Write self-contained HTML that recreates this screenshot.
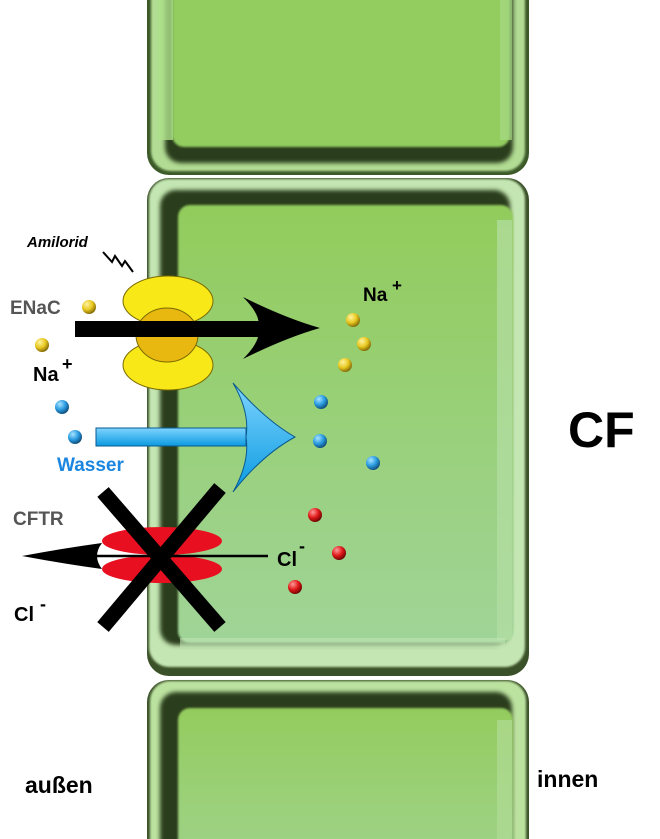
<!DOCTYPE html>
<html><head><meta charset="utf-8"><style>
html,body{margin:0;padding:0;background:#fff;}
svg{display:block;font-family:"Liberation Sans",Arial,sans-serif;font-weight:bold;}
</style></head><body>
<svg width="660" height="839" viewBox="0 0 660 839" xmlns="http://www.w3.org/2000/svg">
<defs>
<filter id="b2" x="-10%" y="-10%" width="120%" height="120%"><feGaussianBlur stdDeviation="2"/></filter>
<filter id="b1"><feGaussianBlur stdDeviation="1"/></filter>
<linearGradient id="gMid" x1="0" y1="0" x2="0" y2="1"><stop offset="0" stop-color="#92cc5c"/><stop offset="1" stop-color="#a0d498"/></linearGradient>
<linearGradient id="gBot" x1="0" y1="0" x2="0" y2="1"><stop offset="0" stop-color="#94cc5e"/><stop offset="1" stop-color="#a0d38c"/></linearGradient>
<radialGradient id="ry" cx="0.35" cy="0.3" r="0.8"><stop offset="0" stop-color="#fff3a0"/><stop offset="0.5" stop-color="#e8c820"/><stop offset="1" stop-color="#6a5200"/></radialGradient>
<radialGradient id="rb" cx="0.35" cy="0.3" r="0.8"><stop offset="0" stop-color="#a8e4ff"/><stop offset="0.5" stop-color="#2a9be0"/><stop offset="1" stop-color="#0a3a60"/></radialGradient>
<radialGradient id="rr" cx="0.35" cy="0.3" r="0.8"><stop offset="0" stop-color="#ff9a9a"/><stop offset="0.5" stop-color="#e01818"/><stop offset="1" stop-color="#500000"/></radialGradient>
<linearGradient id="ga" x1="0" y1="0" x2="0" y2="1"><stop offset="0" stop-color="#7fd4ff"/><stop offset="1" stop-color="#0a9ae0"/></linearGradient>
</defs>

<!-- top cell -->
<rect x="147" y="-30" width="382" height="205" rx="22" fill="#3c5a28"/>
<rect x="151" y="-30" width="374" height="201" rx="20" fill="#b2dc94" filter="url(#b1)"/>
<rect x="165" y="-30" width="348" height="193" rx="16" fill="#2c3c1c" filter="url(#b2)"/>
<rect x="172" y="-30" width="338" height="177" rx="12" fill="#93cc5e" filter="url(#b1)"/>
<rect x="157" y="-10" width="16" height="150" fill="#ade08a" opacity="0.8"/>
<rect x="500" y="-10" width="12" height="150" fill="#a6d886" opacity="0.7"/>

<!-- middle cell -->
<rect x="147" y="178" width="382" height="498" rx="22" fill="#3a5028"/>
<rect x="149" y="179" width="376" height="488" rx="20" fill="#c4e6b2" filter="url(#b1)"/>
<rect x="160" y="190" width="350" height="455" rx="16" fill="#2c3c1c" filter="url(#b2)"/>
<rect x="178" y="205" width="335" height="438" rx="12" fill="url(#gMid)" filter="url(#b1)"/>
<rect x="497" y="220" width="15" height="420" fill="#b4dea4" opacity="0.7"/>
<rect x="180" y="638" width="325" height="10" fill="#c0e4b4" opacity="0.6"/>

<!-- bottom cell -->
<rect x="147" y="680" width="382" height="190" rx="22" fill="#3a5028"/>
<rect x="150" y="681" width="376" height="190" rx="20" fill="#bce2a0" filter="url(#b1)"/>
<rect x="160" y="692" width="352" height="180" rx="16" fill="#2c3c1c" filter="url(#b2)"/>
<rect x="178" y="708" width="335" height="160" rx="12" fill="url(#gBot)" filter="url(#b1)"/>
<rect x="497" y="720" width="15" height="130" fill="#b0dc96" opacity="0.7"/>

<!-- Amilorid -->
<text x="27" y="247" font-size="15" font-style="italic">Amilorid</text>
<polyline points="103,252 112,262 115,256 122,266 125,261 133,272" fill="none" stroke="#000" stroke-width="2"/>

<!-- ENaC -->
<ellipse cx="168" cy="301" rx="45" ry="25" fill="#f8e818" stroke="#7a6a00" stroke-width="1"/>
<ellipse cx="168" cy="365" rx="45" ry="25" fill="#f8e818" stroke="#7a6a00" stroke-width="1"/>
<ellipse cx="167" cy="335" rx="31" ry="27" fill="#e8b810" stroke="#7a6a00" stroke-width="1"/>
<text x="10" y="314" font-size="19" fill="#555">ENaC</text>
<rect x="75" y="321" width="190" height="16" fill="#000"/>
<path d="M243,297 Q285,318 320,328 Q285,338 243,359 Q262,340 258,328 Q262,316 243,297 Z" fill="#000"/>

<!-- Na balls -->
<circle cx="89" cy="307" r="7" fill="url(#ry)"/>
<circle cx="42" cy="345" r="7" fill="url(#ry)"/>
<circle cx="353" cy="320" r="7" fill="url(#ry)"/>
<circle cx="364" cy="344" r="7" fill="url(#ry)"/>
<circle cx="345" cy="365" r="7" fill="url(#ry)"/>
<text x="33" y="381" font-size="20">Na</text><text x="62" y="370" font-size="18">+</text>
<text x="363" y="301" font-size="19">Na</text><text x="392" y="291" font-size="17">+</text>

<!-- water -->
<circle cx="62" cy="407" r="7" fill="url(#rb)"/>
<circle cx="75" cy="437" r="7" fill="url(#rb)"/>
<circle cx="321" cy="402" r="7" fill="url(#rb)"/>
<circle cx="320" cy="441" r="7" fill="url(#rb)"/>
<circle cx="373" cy="463" r="7" fill="url(#rb)"/>
<rect x="96" y="428" width="150" height="18" fill="url(#ga)" stroke="#0a5a90" stroke-width="1"/>
<path d="M233,383 Q265,420 295,437 Q262,455 233,492 Q250,462 246,437 Q250,412 233,383 Z" fill="url(#ga)" stroke="#0a5a90" stroke-width="1"/>
<text x="57" y="471" font-size="19" fill="#1a86e0">Wasser</text>

<!-- CFTR -->
<text x="13" y="525" font-size="19" fill="#555">CFTR</text>
<ellipse cx="162" cy="541" rx="60" ry="14" fill="#e81020"/>
<ellipse cx="162" cy="569" rx="60" ry="14" fill="#e81020"/>
<line x1="268" y1="556" x2="90" y2="556" stroke="#000" stroke-width="2.5"/>
<path d="M22,556 Q65,548 102,543 Q92,556 102,569 Q65,564 22,556 Z" fill="#000"/>
<line x1="103" y1="492" x2="220" y2="627" stroke="#000" stroke-width="15"/>
<line x1="220" y1="488" x2="103" y2="627" stroke="#000" stroke-width="15"/>
<text x="277" y="566" font-size="20">Cl</text><text x="299" y="552" font-size="18">-</text>
<text x="14" y="621" font-size="20">Cl</text><text x="40" y="610" font-size="18">-</text>
<circle cx="315" cy="515" r="7" fill="url(#rr)"/>
<circle cx="339" cy="553" r="7" fill="url(#rr)"/>
<circle cx="295" cy="587" r="7" fill="url(#rr)"/>

<text x="568" y="447" font-size="50">CF</text>
<text x="25" y="793" font-size="23">außen</text>
<text x="537" y="787" font-size="23">innen</text>
</svg>
</body></html>
